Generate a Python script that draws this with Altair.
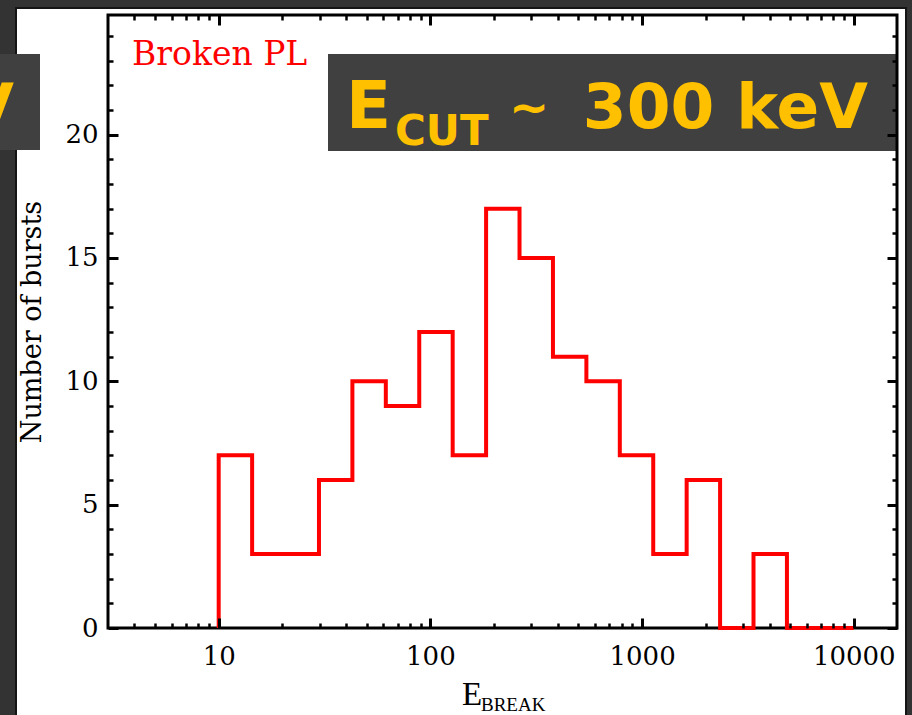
import altair as alt
import numpy as np
import pandas as pd

# Histogram of break energies (broken power-law fits), log-spaced bins 10 keV - 10 MeV
bin_lo = 10.0
bin_hi = 10000.0
n_bins = 19
counts = [7, 3, 3, 6, 10, 9, 12, 7, 17, 15, 11, 10, 7, 3, 6, 0, 3, 0, 0]

x_major = [10, 100, 1000, 10000]
x_minor = [4, 5, 6, 7, 8, 9,
           20, 30, 40, 50, 60, 70, 80, 90,
           200, 300, 400, 500, 600, 700, 800, 900,
           2000, 3000, 4000, 5000, 6000, 7000, 8000, 9000]
y_major = [0, 5, 10, 15, 20]
y_minor = [1, 2, 3, 4, 6, 7, 8, 9, 11, 12, 13, 14, 16, 17, 18, 19, 21, 22, 23, 24]

x_domain = [3, 16000]
y_domain = [0, 24.85]

W, H = 789, 613
SERIF = "DejaVu Serif"
SANS = "DejaVu Sans"
AMBER = "#FFC000"
BOX = "#404040"

edges = np.logspace(np.log10(bin_lo), np.log10(bin_hi), n_bins + 1)
step_x = [edges[0]] + list(edges)
step_y = [0] + counts + [0]
hist = pd.DataFrame({"e": step_x, "n": step_y, "i": range(len(step_x))})

xs = alt.Scale(type="log", domain=x_domain, nice=False)
ys = alt.Scale(domain=y_domain, nice=False, zero=True)


def tick_axis(orient, values, size, width):
    return alt.Axis(orient=orient, values=values, tickSize=size, offset=-size,
                    tickWidth=width, tickColor="black", labels=False, domain=False,
                    grid=False, title=None, zindex=2)


def tick_layer(x_orient, y_orient, xv, yv, size, width):
    return alt.Chart(hist).mark_point(opacity=0).encode(
        x=alt.X("e:Q", scale=xs, axis=tick_axis(x_orient, xv, size, width)),
        y=alt.Y("n:Q", scale=ys, axis=tick_axis(y_orient, yv, size, width)),
    )


def label(text, x, y, size, color, font, weight="normal", align="left", baseline="alphabetic"):
    return alt.Chart(pd.DataFrame({"t": [text]})).mark_text(
        font=font, fontSize=size, color=color, fontWeight=weight,
        align=align, baseline=baseline,
    ).encode(text="t:N", x=alt.value(x), y=alt.value(y))


def box(x0, x1, y0, y1, fill, stroke=None):
    kw = dict(fill=fill)
    if stroke:
        kw.update(stroke=stroke, strokeWidth=2)
    return alt.Chart(pd.DataFrame({"k": [0]})).mark_rect(**kw).encode(
        x=alt.value(x0), x2=alt.value(x1), y=alt.value(y0), y2=alt.value(y1))


# slide page and the dark caption boxes
page = box(-92, 798, -7, 702, "white", stroke="#151515")
left_box = box(-108, -68, 39, 135, BOX)
cut_box = box(220, 789, 39, 136, BOX)

left_v = label("V", -94, 113, 63, AMBER, SANS, weight="bold", align="right")
cut_e = label("E", 238, 113, 66, AMBER, SANS, weight="bold")
cut_sub = label("CUT", 287, 130, 42, AMBER, SANS, weight="bold")
cut_tilde = label("~", 421, 109, 48, AMBER, SANS, weight="bold", align="center")
cut_val = label("300 keV", 760, 113, 63, AMBER, SANS, weight="bold", align="right")

legend = label("Broken PL", 24, 50, 33, "#FF0000", SERIF)
xt_e = label("E", 354, 690, 33, "black", "Liberation Serif")
xt_sub = label("BREAK", 373, 696, 19, "black", "Liberation Serif")

# frame around the plot area
frame = alt.Chart(pd.DataFrame({"k": [0]})).mark_rect(
    filled=False, stroke="black", strokeWidth=3
).encode(x=alt.value(0), x2=alt.value(W), y=alt.value(0), y2=alt.value(H))

# histogram outline with tick labels and y title
line = alt.Chart(hist).mark_line(
    interpolate="step-after", color="#FF0000", strokeWidth=4, strokeJoin="miter"
).encode(
    x=alt.X("e:Q", scale=xs, axis=alt.Axis(
        orient="bottom", values=x_major, format="d", ticks=False, tickSize=0,
        domain=False, grid=False, title=None, labelFont=SERIF, labelFontSize=26,
        labelColor="black", labelPadding=15, labelFlush=False, labelOverlap=False,
        zindex=2)),
    y=alt.Y("n:Q", scale=ys, axis=alt.Axis(
        orient="left", values=y_major, ticks=False, tickSize=0, domain=False,
        grid=False, title="Number of bursts", titleFont=SERIF, titleFontSize=27,
        titleFontWeight="normal", titleColor="black", titleX=-76, titleY=H / 2,
        titleBaseline="middle", labelFont=SERIF, labelFontSize=26,
        labelColor="black", labelPadding=10, labelFlush=False, labelOverlap=False,
        zindex=2)),
    order=alt.Order("i:Q"),
)

ticks = [
    tick_layer("bottom", "right", x_major, y_major, 10, 3),
    tick_layer("bottom", "right", x_minor, y_minor, 5, 2.5),
    tick_layer("top", "left", x_major, y_major, 10, 3),
    tick_layer("top", "left", x_minor, y_minor, 5, 2.5),
]

chart = alt.layer(
    page, left_box, cut_box, left_v, cut_e, cut_sub, cut_tilde, cut_val,
    legend, xt_e, xt_sub, *ticks, frame, line,
).resolve_axis(x="independent", y="independent").properties(
    width=W, height=H,
    autosize=alt.AutoSizeParams(type="none"),
    padding={"left": 108, "top": 15, "right": 15, "bottom": 87},
    background="#333333",
).configure_view(stroke=None)

chart.save("out.html", embed_options={"renderer": "svg", "actions": False})
